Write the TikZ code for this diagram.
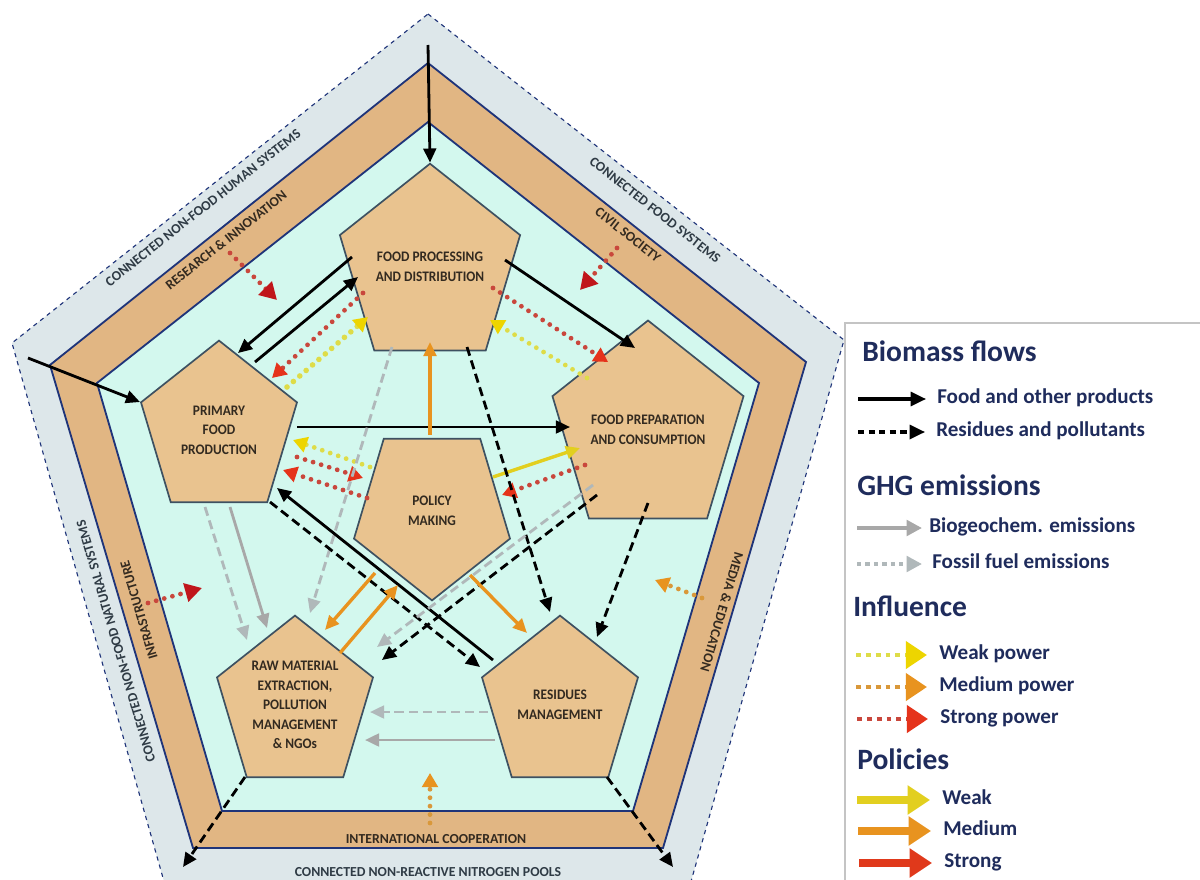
\documentclass[tikz,border=0pt]{standalone}
\usepackage{fontspec}
\setmainfont{Carlito}
\usetikzlibrary{arrows.meta, calc, shapes.geometric}
\definecolor{OuterGray}{HTML}{DDE7EA}
\definecolor{BandBrown}{HTML}{E1B683}
\definecolor{InnerAqua}{HTML}{D3F8EE}
\definecolor{PentTan}{HTML}{E9C38F}
\definecolor{PentEdge}{HTML}{3E5161}
\definecolor{NavyLine}{HTML}{1F3479}
\definecolor{LegendNavy}{HTML}{1F2C5C}
\definecolor{TextDark}{HTML}{332A20}
\definecolor{SlateText}{HTML}{2F3B45}
\definecolor{EmitGray}{HTML}{A8A8A8}
\definecolor{FossilGray}{HTML}{B0B8BA}
\definecolor{WeakYellow}{HTML}{DEDC48}
\definecolor{WeakTip}{HTML}{EDD500}
\definecolor{MedOrange}{HTML}{E8931F}
\definecolor{MedDot}{HTML}{D9983A}
\definecolor{StrongDot}{HTML}{C9473C}
\definecolor{StrongTip}{HTML}{E5331B}
\definecolor{DarkRedTip}{HTML}{C0161B}
\definecolor{PolYellow}{HTML}{E2CF1F}
\definecolor{PolRed}{HTML}{E0391B}
\definecolor{BoxGray}{HTML}{C4C4C4}
\tikzset{
  pent/.style={regular polygon, regular polygon sides=5, draw=PentEdge, line width=1.2pt, fill=PentTan, minimum size=4.1cm, inner sep=0pt, yscale=1.09, align=center, font=\fontsize{9.5}{12.8}\selectfont\bfseries, text=TextDark},
  outerlab/.style={font=\fontsize{9.8}{11}\selectfont\bfseries, text=SlateText, inner sep=0pt},
  bandlab/.style={font=\fontsize{9.8}{11}\selectfont\bfseries, text=TextDark, inner sep=0pt},
  food/.style={draw=black, line width=2pt, -{Triangle[length=10pt,width=9pt]}},
  residue/.style={food, dash pattern=on 6.5pt off 3.5pt},
  biogas/.style={draw=EmitGray, line width=2pt, -{Triangle[length=10pt,width=9pt]}},
  fossilgas/.style={biogas, draw=FossilGray, dash pattern=on 6.5pt off 3.5pt},
  inf/.style={line width=3.4pt, line cap=round, dash pattern=on 0pt off 6pt},
  weakinf/.style={inf, draw=WeakYellow, -{Triangle[length=10pt,width=11pt,color=WeakTip]}},
  medinf/.style={inf, draw=MedDot, -{Triangle[length=10pt,width=11pt,color=MedOrange]}},
  stronginf/.style={inf, draw=StrongDot, -{Triangle[length=10pt,width=11pt,color=StrongTip]}},
  extinf/.style={inf, draw=StrongDot, -{Triangle[length=12pt,width=13pt,color=DarkRedTip]}},
  weakpol/.style={draw=PolYellow, line width=2.4pt, -{Triangle[length=10pt,width=9pt]}},
  medpol/.style={weakpol, draw=MedOrange},
  strongpol/.style={weakpol, draw=PolRed},
  legtitle/.style={anchor=west, font=\fontsize{21}{24}\selectfont\bfseries, text=LegendNavy, inner sep=0pt, text height=0.64em, text depth=0pt},
  legitem/.style={anchor=west, font=\fontsize{15}{18}\selectfont\bfseries, text=LegendNavy, inner sep=0pt, text height=0.64em, text depth=0pt}
}

\begin{document}
\begin{tikzpicture}[x=0.025cm, y=-0.025cm]
\useasboundingbox (0,0) rectangle (1200,879);
\filldraw[fill=OuterGray, draw=NavyLine, dashed, line width=0.8pt] (428,14) -- (844,340) -- (690,885) -- (165,885) -- (12,343) -- cycle;
\filldraw[fill=BandBrown, draw=NavyLine, line width=1.3pt] (428,63) -- (806,362) -- (663,848) -- (193,848) -- (50,365) -- cycle;
\filldraw[fill=InnerAqua, draw=NavyLine, line width=1.3pt] (428,122) -- (759,383) -- (633,811) -- (222,811) -- (97,383) -- cycle;

\node[outerlab, rotate=38.3] (lHuman) at (203,208) {CONNECTED NON-FOOD HUMAN SYSTEMS};
\node[bandlab, rotate=38.3] (lResearch) at (226,240) {RESEARCH \& INNOVATION};
\node[outerlab, rotate=-38.3] (lFoodSys) at (655,210) {CONNECTED FOOD SYSTEMS};
\node[bandlab, rotate=-38.3] (lCivil) at (628,235) {CIVIL SOCIETY};
\node[bandlab, rotate=-106.4] (lMedia) at (722,612) {MEDIA \& EDUCATION};
\node[bandlab, rotate=106.4] (lInfra) at (139,610) {INFRASTRUCTURE};
\node[outerlab, rotate=106.4] (lNatural) at (116,641) {CONNECTED NON-FOOD NATURAL SYSTEMS};
\node[bandlab] (lIntl) at (436,839) {INTERNATIONAL COOPERATION};
\node[outerlab] (lNitro) at (428,872) {CONNECTED NON-REACTIVE NITROGEN POOLS};

\node[pent] (fp) at (430,267) {FOOD PROCESSING\\AND DISTRIBUTION};
\node[pent] (pfp) at (219,430) {PRIMARY\\FOOD\\PRODUCTION};
\node[pent] (fpc) at (648,430) {FOOD PREPARATION\\AND CONSUMPTION};
\node[pent, shape border rotate=180] (pm) at (432,511) {POLICY\\MAKING};
\node[pent] (rm) at (295,705) {RAW MATERIAL\\EXTRACTION,\\POLLUTION\\MANAGEMENT\\\& NGOs};
\node[pent] (res) at (560,705) {RESIDUES\\MANAGEMENT};

\coordinate (topIn) at (428,45);
\coordinate (leftIn) at (28,358);
\coordinate (outBL) at (183,867);
\coordinate (outBR) at (673,867);
\coordinate (riTo) at (277,300);
\coordinate (csTo) at (580,290);
\coordinate (infTo) at (202,588);
\coordinate (meTo) at (655,580);
\coordinate (icTo) at (430,773);

\draw[food] (topIn) -- (fp.corner 1);
\draw[food] (leftIn) -- (pfp.corner 2);
\draw[food] ($(fp)+(-78,-10)$) -- ($(pfp)+(19,-77)$);
\draw[food] ($(pfp)+(36,-68)$) -- ($(fp)+(-72,10)$);
\draw[stronginf] ($(fp)+(-67,26)$) -- ($(pfp)+(53,-52)$);
\draw[weakinf, line width=4pt] ($(pfp)+(68,-43)$) -- ($(fp)+(-62,50)$);
\draw[food] ($(fp)+(75,-7)$) -- ($(fpc)+(-13,-82)$);
\draw[stronginf] ($(fp)+(63,21)$) -- ($(fpc)+(-40,-68)$);
\draw[weakinf] ($(fpc)+(-61,-52)$) -- ($(fp)+(60,53)$);
\draw[extinf] ($(lCivil)+(-11,13)$) -- (csTo);
\draw[extinf] ($(lResearch)+(4,13)$) -- (riTo);
\draw[extinf] ($(lInfra)+(9,-7)$) -- (infTo);
\draw[medinf] ($(lMedia)+(-20,-14)$) -- (meTo);
\draw[medinf] ($(lIntl)+(-6,-16)$) -- (icTo);
\draw[food] ($(pfp)+(78,-3)$) -- ($(fpc)+(-78,-3)$);
\draw[medpol] ($(pm)+(-2,-76)$) -- ($(fp)+(0,75)$);
\draw[weakinf] ($(pm)+(-62,-44)$) -- ($(pfp)+(74,10)$);
\draw[stronginf] ($(pfp)+(78,27)$) -- ($(pm)+(-69,-33)$);
\draw[stronginf] ($(pm)+(-65,-13)$) -- ($(pfp)+(64,40)$);
\draw[weakpol] ($(pm)+(61,-34)$) -- ($(fpc)+(-68,18)$);
\draw[stronginf] ($(fpc)+(-63,35)$) -- ($(pm)+(70,-16)$);
\draw[residue] ($(fp)+(37,80)$) -- ($(res)+(-10,-93)$);
\draw[fossilgas] ($(fp)+(-38,80)$) -- ($(rm)+(15,-92)$);
\draw[fossilgas] ($(pfp)+(-14,77)$) -- ($(rm)+(-48,-65)$);
\draw[biogas] ($(pfp)+(11,77)$) -- ($(rm)+(-28,-77)$);
\draw[food] ($(res)+(-67,-45)$) -- ($(pfp)+(58,58)$);
\draw[residue] ($(pfp)+(51,72)$) -- ($(res)+(-80,-38)$);
\draw[fossilgas] ($(fpc)+(-55,55)$) -- ($(rm)+(82,-58)$);
\draw[residue] ($(fpc)+(-51,65)$) -- ($(rm)+(87,-45)$);
\draw[medpol] ($(pm)+(-57,62)$) -- ($(rm)+(30,-75)$);
\draw[medpol] ($(rm)+(45,-52)$) -- ($(pm)+(-34,74)$);
\draw[medpol] ($(pm)+(38,64)$) -- ($(res)+(-33,-72)$);
\draw[residue] ($(fpc)+(0,73)$) -- ($(res)+(37,-68)$);
\draw[fossilgas] ($(res)+(-72,7)$) -- ($(rm)+(75,7)$);
\draw[biogas] ($(res)+(-65,35)$) -- ($(rm)+(70,35)$);
\draw[residue] ($(rm)+(-50,72)$) -- (outBL);
\draw[residue] ($(res)+(47,72)$) -- (outBR);

\draw[BoxGray, line width=1.2pt, fill=white] (845,323) rectangle (1215,895);
\node[legtitle] (lgBio) at (862,357) {Biomass flows};
\node[legitem] (lgFood) at (937,399) {Food and other products};
\node[legitem] (lgRes) at (936,432) {Residues and pollutants};
\node[legtitle] (lgGhg) at (857,491) {GHG emissions};
\node[legitem] (lgBgc) at (929,528) {Biogeochem. emissions};
\node[legitem] (lgFos) at (932,564) {Fossil fuel emissions};
\node[legtitle] (lgInf) at (853,612) {Influence};
\node[legitem] (lgWeakP) at (939,655) {Weak power};
\node[legitem] (lgMedP) at (939,687) {Medium power};
\node[legitem] (lgStrP) at (940,719) {Strong power};
\node[legtitle] (lgPol) at (857,765) {Policies};
\node[legitem] (lgWeak) at (942,800) {Weak};
\node[legitem] (lgMed) at (943,831) {Medium};
\node[legitem] (lgStr) at (944,863) {Strong};

\draw[food, line width=2.2pt, -{Triangle[length=11pt,width=10pt]}] ($(lgFood.west)+(-79,0)$) -- ($(lgFood.west)+(-11,0)$);
\draw[residue, line width=2.2pt, dash pattern=on 4.5pt off 3pt, -{Triangle[length=11pt,width=10pt]}] ($(lgRes.west)+(-78,0)$) -- ($(lgRes.west)+(-11,0)$);
\draw[biogas, line width=3.2pt, -{Triangle[length=11pt,width=11pt]}] ($(lgBgc.west)+(-72,0)$) -- ($(lgBgc.west)+(-7,0)$);
\draw[fossilgas, line width=3.2pt, dash pattern=on 3pt off 3pt, -{Triangle[length=11pt,width=11pt]}] ($(lgFos.west)+(-75,0)$) -- ($(lgFos.west)+(-10,0)$);
\draw[weakinf, line cap=butt, line width=3.5pt, dash pattern=on 3.5pt off 3.5pt, -{Triangle[length=15pt,width=19pt,color=WeakTip]}] ($(lgWeakP.west)+(-83,0)$) -- ($(lgWeakP.west)+(-12,0)$);
\draw[medinf, line cap=butt, line width=3.5pt, dash pattern=on 3.5pt off 3.5pt, -{Triangle[length=15pt,width=19pt,color=MedOrange]}] ($(lgMedP.west)+(-83,0)$) -- ($(lgMedP.west)+(-12,0)$);
\draw[stronginf, line cap=butt, line width=3.5pt, dash pattern=on 3.5pt off 3.5pt, -{Triangle[length=15pt,width=19pt,color=StrongTip]}] ($(lgStrP.west)+(-83,0)$) -- ($(lgStrP.west)+(-12,0)$);
\draw[weakpol, line width=5pt, -{Triangle[length=16pt,width=20pt]}] ($(lgWeak.west)+(-85,0)$) -- ($(lgWeak.west)+(-12,0)$);
\draw[medpol, line width=5pt, -{Triangle[length=16pt,width=20pt]}] ($(lgMed.west)+(-85,0)$) -- ($(lgMed.west)+(-12,0)$);
\draw[strongpol, line width=5pt, -{Triangle[length=16pt,width=20pt]}] ($(lgStr.west)+(-85,0)$) -- ($(lgStr.west)+(-12,0)$);
\end{tikzpicture}
\end{document}
